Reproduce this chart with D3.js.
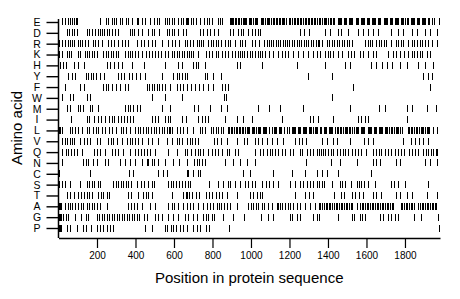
<!DOCTYPE html>
<html>
<head>
<meta charset="utf-8">
<script src="https://cdn.jsdelivr.net/npm/d3@7"></script>
<style>
  html, body { margin: 0; padding: 0; background: #fff; }
  svg { display: block; }
  text { font-family: "Liberation Sans", Arial, Helvetica, sans-serif; fill: #000; }
</style>
</head>
<body>
<svg id="chart" width="460" height="299"></svg>
<script>
// ---- Data ----
const aminoAcids = ["E","D","R","K","H","Y","F","W","M","I","L","V","Q","N","C","S","T","A","G","P"];
const proteinLength = 1982;
const xTickValues = [200, 400, 600, 800, 1000, 1200, 1400, 1600, 1800];

const posE = [20,34,51,60,69,81,89,98,216,245,256,280,290,301,320,332,349,363,384,406,415,436,450,476,498,510,522,554,564,574,592,602,623,637,649,661,
  666,674,688,700,712,735,757,771,782,799,830,841,851,
  891,897,903,909,915,921,932,939,946,957,964,970,975,988,995,1001,1013,1019,1026,1032,1050,1056,1063,1074,1081,1087,1094,1105,1112,1118,1131,1136,1143,1149,1162,1168,1174,1181,1199,1205,1211,1224,1230,1237,1243,1256,1262,1268,1281,1288,1294,1300,1313,1319,1326,1332,1345,1351,1357,1370,1377,1383,1389,1402,1408,1415,1427,1433,1450,1456,1462,1469,1482,1488,1494,1507,1513,1520,1526,1545,1551,1557,1570,1576,1583,1589,1602,1608,1614,1627,1634,1640,1646,1659,1665,1671,1690,1697,1703,1709,1722,1728,1735,1748,1754,1760,1766,1779,1786,1792,1798,1811,1817,1830,1836,1842,1849,1861,1868,1874,1887,1893,1899,1906,1918,1925,1940,1952,1976];
const posD = [43,56,69,82,96,147,159,176,190,204,216,226,237,250,263,280,294,311,372,384,394,412,432,467,484,498,522,562,574,588,602,619,649,661,
  735,752,770,787,809,830,891,908,934,948,960,986,1003,1021,1035,1047,1255,1277,1301,
  1384,1410,1453,1467,1505,1557,1583,1609,1635,1661,1730,1762,1791,1834,1860,1904,1930,1964];
const posR = [1,3,5,20,34,48,60,69,82,100,112,124,138,155,181,190,207,224,259,273,290,308,328,346,360,406,429,446,467,484,502,536,571,592,605,626,657,
  666,683,700,718,730,740,752,778,792,804,816,830,844,865,879,891,917,943,955,969,1003,1021,1041,1069,1081,1093,1104,1115,1128,1140,1151,1164,1176,1188,1200,1212,1224,1237,1249,1261,1273,1286,1298,1310,1323,1336,1348,
  1353,1367,1393,1405,1419,1432,1445,1457,1471,1484,1497,1510,1523,1592,1606,1618,1630,1652,1665,1678,1691,1704,1727,1751,1765,1779,1791,1817,1834,1848,1862,1876,1890,1904,1921,1938,1964];
const posK = [3,20,43,55,65,100,112,138,148,160,173,186,199,233,245,259,273,285,297,311,346,360,372,384,398,415,436,453,470,484,502,519,533,554,571,588,602,614,626,640,654,668,
  678,688,700,726,764,782,796,816,830,851,865,882,903,917,931,943,951,965,977,995,1007,1021,1035,1047,1059,1073,1093,1116,1138,1159,1177,1194,1220,1246,1272,1298,1324,1341,
  1358,1384,1398,1410,1424,1450,1471,1505,1519,1536,1566,1583,1606,1635,1652,1713,1739,1756,1774,1796,1817,1834,1848,1862,1876,1890,1912,1930];
const posH = [10,25,40,80,100,135,250,270,290,310,330,380,445,555,620,640,
  700,714,726,761,925,943,1055,1237,
  1384,1490,1516,1626,1652,1680,1706,1732,1775,1810,1870,1905,1948];
const posY = [51,69,86,141,155,169,181,193,216,238,308,325,342,366,384,401,424,450,536,597,614,627,640,657,
  666,761,770,804,844,1298,1419,1895,1921,1942];
const posF = [34,112,134,233,245,259,276,297,320,346,363,458,470,484,498,510,522,536,554,580,614,632,649,666,
  688,709,730,752,775,804,848,865,879,1531,1930];
const posW = [17,60,77,146,164,484,554,640,861,872,1419];
const posM = [43,60,100,112,129,164,176,207,346,360,372,389,406,424,536,580,
  705,723,787,844,873,1035,1093,1151,1272,1514,1665,1696,1813,1834,1912,1959];
const posI = [65,147,159,186,207,221,242,263,277,290,311,325,339,354,372,389,484,502,519,554,567,580,640,661,
  723,747,761,778,865,925,960,1003,1159,1306,1324,1346,1427,1557,1574,1592,1609,1808];
const posL = [2,8,17,60,72,86,100,121,147,160,181,193,207,224,242,263,276,297,325,337,349,372,398,412,425,439,453,467,481,495,508,522,536,550,564,576,581,588,614,632,649,666,
  700,735,747,761,792,804,816,830,844,856,
  882,888,895,901,914,920,926,939,945,952,958,971,977,984,990,1003,1009,1016,1028,1035,1041,1048,1060,1067,1073,1080,1092,1111,1118,1124,1131,1143,1150,1156,1171,1185,1197,1211,1217,1224,1230,1243,1249,1256,1268,1275,1281,1288,1300,1307,1313,1320,1332,1339,1345,1358,1364,1377,1383,1390,1403,1409,1415,1422,1434,1447,1454,1460,1466,1479,1486,1492,1498,1511,1517,1524,1537,1543,1549,1556,1569,1575,1581,1588,1607,1613,1620,1626,1639,1645,1652,1664,1671,1677,1683,1696,1703,1709,1715,1728,1735,1741,1754,1760,1766,1773,1786,
  1817,1823,1830,1836,1849,1855,1862,1874,1881,1887,1894,1906,1913,1919,1926,1947,1964];
const posV = [20,34,46,58,69,82,112,134,148,162,199,216,259,273,285,302,328,354,372,384,398,412,432,467,484,519,562,588,614,626,640,666,
  683,695,709,726,809,822,844,873,925,965,977,1021,1038,1059,1081,1107,1133,1168,1229,1249,1267,1284,
  1370,1393,1427,1445,1514,1588,1606,1635,1791,1831,1852,1872,1895,1921];
const posQ = [20,37,51,65,79,96,121,186,199,216,242,280,294,311,337,372,398,415,429,446,460,476,502,571,614,657,
  666,688,709,723,735,752,775,799,813,830,851,873,886,917,934,1021,1047,1064,1081,1099,1111,1125,1142,1159,1177,1203,1220,1255,1263,1289,1306,1324,
  1341,1353,1363,1375,1387,1401,1415,1427,1445,1462,1479,1491,1505,1526,1540,1557,1574,1600,1635,1652,1665,1678,1696,1713,1730,1748,1765,1779,1796,1820,1834,1852,1869,1895,1907,1921,1935,1947,1959,1969];
const posN = [20,129,143,155,181,199,242,256,320,346,372,398,432,458,467,484,498,519,554,597,626,666,
  705,718,730,744,761,865,908,943,977,1021,1284,
  1415,1462,1549,1635,1652,1670,1756,1774,1904,1930,1964];
const posC = [3,162,365,385,515,545,562,666,674,700,723,735,960,995,1116,1211,1281,1341,1367,1393,1453,1626];
const posS = [1,3,17,34,60,112,147,159,173,186,204,216,285,297,311,323,335,349,363,377,406,429,446,467,484,498,571,585,597,609,626,640,657,
  671,683,782,830,856,879,891,917,943,969,986,1003,1021,1055,1076,1093,1116,1142,1203,1229,1255,1272,1289,1306,1324,
  1341,1353,1367,1380,1419,1462,1474,1488,1519,1549,1561,1574,1588,1609,1644,1727,1744,1762,1800,1921];
const posT = [43,60,82,103,117,134,147,159,173,207,221,233,250,263,363,377,415,441,453,467,484,588,649,661,
  666,678,695,712,730,764,782,799,816,834,851,873,925,995,1012,1029,1047,1059,1229,1281,1301,1324,
  1432,1467,1484,1523,1540,1561,1583,1635,1652,1678,1756,1774,1808,1834,1912,1964];
const posA = [3,8,14,34,48,60,72,86,103,117,129,147,159,173,186,199,216,250,363,377,394,406,432,476,502,571,588,602,619,649,
  666,683,700,723,752,770,787,804,822,834,844,861,873,891,925,986,1000,1012,1024,1038,1055,1069,1087,1111,1133,1140,1151,1163,1177,1190,1203,1220,1237,1255,1281,1306,1332,
  1353,1361,1370,1378,1388,1396,1405,1413,1422,1431,1440,1448,1457,1466,1474,1483,1492,1500,1510,1518,1527,1549,1566,1576,1584,1593,1601,1610,1619,1627,1636,1645,1654,1662,1671,1680,1688,1697,1706,1714,1723,1732,1739,1779,1787,1796,1805,1813,1822,1831,1839,1848,1869,1878,1886,1895,1903,1912,1921,1929,1938,1946,1955,1963];
const posG = [3,8,14,25,37,51,86,117,141,155,199,211,224,238,250,263,276,290,302,315,328,342,354,366,380,394,406,418,446,458,502,519,536,571,597,623,657,
  674,700,718,752,764,778,796,809,856,908,965,1052,1090,1116,1203,1215,1237,1255,1324,1341,
  1353,1453,1523,1536,1566,1578,1592,1670,1687,1713,1730,1748,1765,1848,1883,1973];
const posP = [2,6,13,43,60,95,129,141,169,199,216,233,250,268,285,450,484,553,565,582,596,610,631,648,669,700,718,735,766,783,887,1977];

const positionsByAcid = {
  E: posE, D: posD, R: posR, K: posK, H: posH, Y: posY, F: posF, W: posW, M: posM, I: posI,
  L: posL, V: posV, Q: posQ, N: posN, C: posC, S: posS, T: posT, A: posA, G: posG, P: posP
};

// ---- Drawing ----
const svg = d3.select("#chart");
const plotLeft = 58.5, plotRight = 440, axisY = 238;

const x = d3.scaleLinear().domain([0, proteinLength]).range([plotLeft, plotRight]);
const y = d3.scalePoint().domain(aminoAcids).range([22, 228]);

const marks = [];
aminoAcids.forEach(a => positionsByAcid[a].forEach(p => marks.push({a, p})));

svg.append("g").attr("shape-rendering", "crispEdges")
  .selectAll("line").data(marks).join("line")
  .attr("x1", d => Math.round(x(d.p)) + 0.5).attr("x2", d => Math.round(x(d.p)) + 0.5)
  .attr("y1", d => Math.round(y(d.a) - 3.5)).attr("y2", d => Math.round(y(d.a) + 3.5))
  .attr("stroke", "#000").attr("stroke-width", 1);

// Left axis
const yAxis = d3.axisLeft(y).tickSize(12).tickSizeOuter(0).tickPadding(3);
const gy = svg.append("g").attr("transform", `translate(${plotLeft},0)`).call(yAxis);
gy.select(".domain").remove();
gy.selectAll(".tick line").attr("stroke", "#000").attr("stroke-width", 1.4);
gy.selectAll(".tick text")
  .attr("x", -21.5).attr("text-anchor", "middle")
  .style("font-size", "10.5px");
svg.append("line").attr("x1", plotLeft).attr("x2", plotLeft).attr("y1", 19).attr("y2", axisY)
  .attr("stroke", "#000").attr("stroke-width", 1.5);

// Bottom axis
const xAxis = d3.axisBottom(x).tickValues(xTickValues).tickSize(10).tickSizeOuter(0)
  .tickFormat(d3.format("d")).tickPadding(4);
const gx = svg.append("g").attr("transform", `translate(0,${axisY})`).call(xAxis);
gx.select(".domain").attr("stroke", "#000").attr("stroke-width", 1.5);
gx.selectAll(".tick line").attr("stroke", "#000").attr("stroke-width", 1.2);
gx.selectAll(".tick text").style("font-size", "10px");

// Axis titles
svg.append("text").attr("x", (plotLeft + plotRight) / 2).attr("y", 283)
  .attr("text-anchor", "middle").style("font-size", "15px")
  .text("Position in protein sequence");
svg.append("text").attr("transform", "translate(22,128) rotate(-90)")
  .attr("text-anchor", "middle").style("font-size", "15px")
  .text("Amino acid");
</script>
</body>
</html>
